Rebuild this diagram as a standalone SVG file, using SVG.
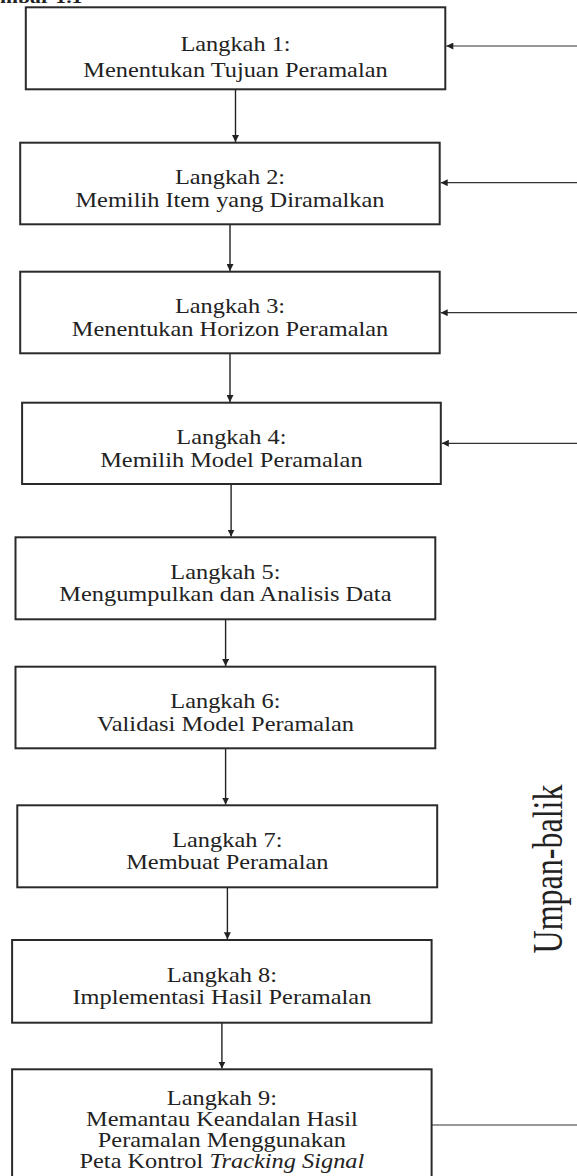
<svg xmlns="http://www.w3.org/2000/svg" width="577" height="1176" viewBox="0 0 577 1176">
<style>
.box{fill:#fff;stroke:#2a2a2a;stroke-width:2}
.t{font-family:"Liberation Serif","Times New Roman",serif;font-size:21px;fill:#222;text-anchor:middle}
.con{stroke:#222;stroke-width:1.4;fill:none}
.fb{stroke:#333;stroke-width:1.2;fill:none}
</style>
<defs>
<marker id="ad" viewBox="0 0 10 10" refX="10" refY="5" markerWidth="7" markerHeight="7" markerUnits="userSpaceOnUse" orient="auto"><path d="M0,0 L10,5 L0,10 z" fill="#222"/></marker>
<marker id="al" viewBox="0 0 10 10" refX="10" refY="5" markerWidth="8" markerHeight="7" markerUnits="userSpaceOnUse" orient="auto"><path d="M0,0 L10,5 L0,10 z" fill="#222"/></marker>
</defs>
<rect width="577" height="1176" fill="#fff"/>
<text x="0" y="3" font-family="Liberation Serif, serif" font-weight="bold" font-size="17" fill="#222" transform="scale(1.27,1)">mbar 1.1</text>

<g id="connectors">
<line class="con" x1="235.5" y1="89.3" x2="235.5" y2="142" marker-end="url(#ad)"/>
<line class="con" x1="230" y1="224.3" x2="230" y2="271" marker-end="url(#ad)"/>
<line class="con" x1="230" y1="353.3" x2="230" y2="402" marker-end="url(#ad)"/>
<line class="con" x1="231.1" y1="484" x2="231.1" y2="536.6" marker-end="url(#ad)"/>
<line class="con" x1="225.6" y1="619.3" x2="225.6" y2="666" marker-end="url(#ad)"/>
<line class="con" x1="225.6" y1="748.3" x2="225.6" y2="804.6" marker-end="url(#ad)"/>
<line class="con" x1="227.4" y1="887.3" x2="227.4" y2="939.3" marker-end="url(#ad)"/>
<line class="con" x1="221.9" y1="1022.7" x2="221.9" y2="1068.6" marker-end="url(#ad)"/>
<line class="fb" x1="577" y1="46" x2="446.3" y2="46" marker-end="url(#al)"/>
<line class="fb" x1="577" y1="182.7" x2="440.7" y2="182.7" marker-end="url(#al)"/>
<line class="fb" x1="577" y1="312.7" x2="440.7" y2="312.7" marker-end="url(#al)"/>
<line class="fb" x1="577" y1="443.3" x2="441.8" y2="443.3" marker-end="url(#al)"/>
<line class="fb" x1="431.6" y1="1125" x2="577" y2="1125"/>
</g>

<g id="step1"><rect class="box" x="25.8" y="7.3" width="419.5" height="82"/>
<text class="t" transform="translate(235.5,50.5) scale(1.16,1)">Langkah 1:</text>
<text class="t" transform="translate(235.5,76.5) scale(1.16,1)">Menentukan Tujuan Peramalan</text></g>

<g id="step2"><rect class="box" x="20.2" y="142.7" width="419.5" height="81.6"/>
<text class="t" transform="translate(230,184.2) scale(1.16,1)">Langkah 2:</text>
<text class="t" transform="translate(230,206.7) scale(1.16,1)">Memilih Item yang Diramalkan</text></g>

<g id="step3"><rect class="box" x="20.2" y="271.7" width="419.5" height="81.6"/>
<text class="t" transform="translate(230,313.2) scale(1.16,1)">Langkah 3:</text>
<text class="t" transform="translate(230,335.7) scale(1.16,1)">Menentukan Horizon Peramalan</text></g>

<g id="step4"><rect class="box" x="22.1" y="402.7" width="418.7" height="81.3"/>
<text class="t" transform="translate(231.4,444.2) scale(1.16,1)">Langkah 4:</text>
<text class="t" transform="translate(231.4,466.7) scale(1.16,1)">Memilih Model Peramalan</text></g>

<g id="step5"><rect class="box" x="15.5" y="537.3" width="419.8" height="82"/>
<text class="t" transform="translate(225.4,578.8) scale(1.16,1)">Langkah 5:</text>
<text class="t" transform="translate(225.4,601.3) scale(1.16,1)">Mengumpulkan dan Analisis Data</text></g>

<g id="step6"><rect class="box" x="15.5" y="666.7" width="419.8" height="81.6"/>
<text class="t" transform="translate(225.4,708.2) scale(1.16,1)">Langkah 6:</text>
<text class="t" transform="translate(225.4,730.7) scale(1.16,1)">Validasi Model Peramalan</text></g>

<g id="step7"><rect class="box" x="17.3" y="805.3" width="419.9" height="82"/>
<text class="t" transform="translate(227.3,846.8) scale(1.16,1)">Langkah 7:</text>
<text class="t" transform="translate(227.3,869.3) scale(1.16,1)">Membuat Peramalan</text></g>

<g id="step8"><rect class="box" x="12.1" y="940" width="419.5" height="82.7"/>
<text class="t" transform="translate(221.9,981.5) scale(1.16,1)">Langkah 8:</text>
<text class="t" transform="translate(221.9,1004) scale(1.16,1)">Implementasi Hasil Peramalan</text></g>

<g id="step9"><rect class="box" x="12.1" y="1069.3" width="419.5" height="120"/>
<text class="t" transform="translate(221.9,1105) scale(1.16,1)">Langkah 9:</text>
<text class="t" transform="translate(221.9,1126) scale(1.16,1)">Memantau Keandalan Hasil</text>
<text class="t" transform="translate(221.9,1147) scale(1.16,1)">Peramalan Menggunakan</text>
<text class="t" transform="translate(221.9,1168) scale(1.16,1)">Peta Kontrol <tspan font-style="italic">Tracking Signal</tspan></text></g>

<g id="feedback-label">
<text font-family="Liberation Serif, serif" font-size="32" fill="#222" text-anchor="middle" transform="translate(562,869) rotate(-90) scale(1,1.33)">Umpan-balik</text>
</g>
</svg>
